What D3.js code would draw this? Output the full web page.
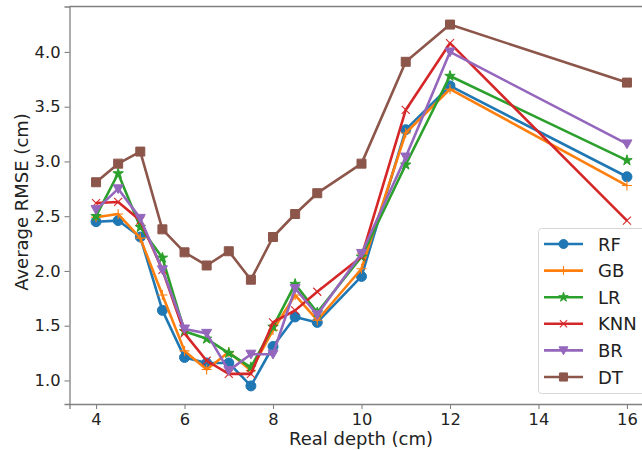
<!DOCTYPE html>
<html>
<head>
<meta charset="utf-8">
<script src="https://cdn.jsdelivr.net/npm/d3@7"></script>
<style>
  html, body { margin: 0; padding: 0; background: #fff; }
  svg { display: block; font-family: "DejaVu Sans", sans-serif; }
</style>
</head>
<body>
<script>
const depths = [4, 4.5, 5, 5.5, 6, 6.5, 7, 7.5, 8, 8.5, 9, 10, 11, 12, 16];
const RF  = [2.45, 2.46, 2.31, 1.64, 1.21, 1.16, 1.16, 0.95, 1.31, 1.58, 1.53, 1.95, 3.29, 3.69, 2.86];
const GB  = [2.49, 2.52, 2.30, 1.78, 1.27, 1.10, 1.26, 1.09, 1.46, 1.78, 1.55, 2.02, 3.26, 3.66, 2.78];
const LR  = [2.50, 2.89, 2.40, 2.12, 1.45, 1.38, 1.25, 1.12, 1.49, 1.88, 1.62, 2.13, 2.97, 3.78, 3.01];
const KNN = [2.62, 2.63, 2.46, 2.01, 1.43, 1.18, 1.06, 1.06, 1.53, 1.64, 1.81, 2.13, 3.47, 4.08, 2.46];
const BR  = [2.56, 2.75, 2.48, 2.01, 1.47, 1.43, 1.09, 1.24, 1.24, 1.84, 1.60, 2.16, 3.04, 4.00, 3.16];
const DT  = [2.81, 2.98, 3.09, 2.38, 2.17, 2.05, 2.18, 1.92, 2.31, 2.52, 2.71, 2.98, 3.91, 4.25, 3.72];
const seriesNames = ["RF", "GB", "LR", "KNN", "BR", "DT"];
const seriesValues = [RF, GB, LR, KNN, BR, DT];
const colors = ["#1f77b4", "#ff7f0e", "#2ca02c", "#d62728", "#9467bd", "#8c564b"];
const markers = ["circle", "plus", "star", "x", "tri", "square"];
const xTicks = [4, 6, 8, 10, 12, 14, 16];
const yTicks = [1.0, 1.5, 2.0, 2.5, 3.0, 3.5, 4.0];

(function () {
const W = 642, H = 450;
const svg = d3.select("body").append("svg").attr("width", W).attr("height", H);

const pL = 69.5, pR = 653.5, pT = 6.5, pB = 404;
const x = d3.scaleLinear().domain([3.4, 16.6]).range([pL, pR]);
const y = d3.scaleLinear().domain([0.785, 4.415]).range([pB, pT]);

svg.append("defs").append("clipPath").attr("id", "clip")
  .append("rect").attr("x", pL).attr("y", pT).attr("width", pR - pL).attr("height", pB - pT);

const spine = "#808080";
const xAxis = svg.append("g").attr("transform", `translate(0,${pB})`)
  .call(d3.axisBottom(x).tickValues(xTicks).tickFormat(d3.format("d")).tickSize(5).tickPadding(4));
const yAxis = svg.append("g").attr("transform", `translate(${pL},0)`)
  .call(d3.axisLeft(y).tickValues(yTicks).tickFormat(d3.format(".1f")).tickSize(5).tickPadding(4));
[xAxis, yAxis].forEach(g => {
  g.select(".domain").attr("stroke", spine).attr("stroke-width", 1.3);
  g.selectAll(".tick line").attr("stroke", spine).attr("stroke-width", 1.1);
  g.selectAll(".tick text").attr("fill", "#222").style("font-size", "16.3px").style("font-family", "DejaVu Sans");
});
svg.append("line").attr("x1", pL).attr("x2", W).attr("y1", pT).attr("y2", pT)
  .attr("stroke", spine).attr("stroke-width", 1.3);

svg.append("text").attr("x", 361).attr("y", 445).attr("text-anchor", "middle")
  .style("font-size", "18px").attr("fill", "#222").text("Real depth (cm)");
svg.append("text").attr("transform", "translate(27.5,202) rotate(-90)").attr("text-anchor", "middle")
  .style("font-size", "18px").attr("fill", "#222").text("Average RMSE (cm)");

function markerPath(type, r) {
  const p = d3.path();
  if (type === "circle") { p.arc(0, 0, r, 0, 2 * Math.PI); }
  else if (type === "square") { p.rect(-r * 0.9, -r * 0.9, r * 1.8, r * 1.8); }
  else if (type === "tri") { p.moveTo(-r, -r * 0.8); p.lineTo(r, -r * 0.8); p.lineTo(0, r * 0.95); p.closePath(); }
  else if (type === "plus") { p.moveTo(-r, 0); p.lineTo(r, 0); p.moveTo(0, -r); p.lineTo(0, r); }
  else if (type === "x") { const a = r * 0.8; p.moveTo(-a, -a); p.lineTo(a, a); p.moveTo(-a, a); p.lineTo(a, -a); }
  else if (type === "star") {
    const R = r * 1.1, ri = R * 0.38;
    for (let i = 0; i < 10; i++) {
      const rad = i % 2 === 0 ? R : ri;
      const ang = -Math.PI / 2 + i * Math.PI / 5;
      const px = rad * Math.cos(ang), py = rad * Math.sin(ang);
      if (i === 0) p.moveTo(px, py); else p.lineTo(px, py);
    }
    p.closePath();
  }
  return p.toString();
}
function drawMarker(g, type, color, r) {
  const filled = !(type === "plus" || type === "x");
  g.append("path").attr("d", markerPath(type, r))
    .attr("fill", filled ? color : "none")
    .attr("stroke", color).attr("stroke-width", filled ? 1 : 1.1);
}

const line = d3.line().x(d => x(d[0])).y(d => y(d[1]));
const plot = svg.append("g").attr("clip-path", "url(#clip)");
seriesValues.forEach((vals, i) => {
  const pts = depths.map((d, j) => [d, vals[j]]);
  const g = plot.append("g");
  g.append("path").attr("d", line(pts)).attr("fill", "none")
    .attr("stroke", colors[i]).attr("stroke-width", 2.6).attr("stroke-linejoin", "round");
  pts.forEach(p => {
    const mg = g.append("g").attr("transform", `translate(${x(p[0])},${y(p[1])})`);
    drawMarker(mg, markers[i], colors[i], 5);
  });
});

const lg = svg.append("g");
lg.append("rect").attr("x", 538.5).attr("y", 228.5).attr("width", 120).attr("height", 165)
  .attr("rx", 3).attr("fill", "#fff").attr("fill-opacity", 0.8).attr("stroke", "#d6d6d6");
seriesNames.forEach((name, i) => {
  const yy = 244 + i * 26.6;
  lg.append("line").attr("x1", 544).attr("x2", 583).attr("y1", yy).attr("y2", yy)
    .attr("stroke", colors[i]).attr("stroke-width", 2.6);
  const mg = lg.append("g").attr("transform", `translate(563.5,${yy})`);
  drawMarker(mg, markers[i], colors[i], 4.5);
  lg.append("text").attr("x", 598).attr("y", yy + 6.5).style("font-size", "18px")
    .attr("fill", "#222").text(name);
});
})();
</script>
</body>
</html>
